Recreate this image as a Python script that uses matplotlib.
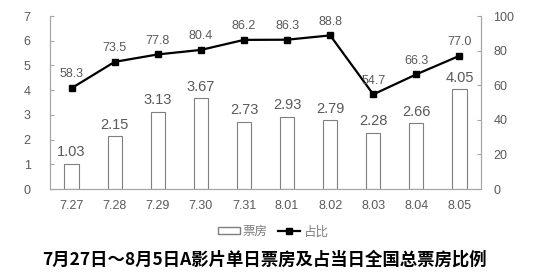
import numpy as np
import matplotlib.pyplot as plt
from matplotlib.patches import Patch
from matplotlib.lines import Line2D

plt.rcParams['font.family'] = ['Noto Sans CJK SC', 'DejaVu Sans']

dates = ['7.27', '7.28', '7.29', '7.30', '7.31', '8.01', '8.02', '8.03', '8.04', '8.05']
box_office = [1.03, 2.15, 3.13, 3.67, 2.73, 2.93, 2.79, 2.28, 2.66, 4.05]
share = [58.3, 73.5, 77.8, 80.4, 86.2, 86.3, 88.8, 54.7, 66.3, 77.0]

gray = '#595959'
num_font = 'Liberation Sans'
fig = plt.figure(figsize=(5.57, 2.76), dpi=100)
ax = fig.add_axes([0.0898, 0.315, 0.7738, 0.627])
ax2 = ax.twinx()

x = np.arange(len(dates))
ax.bar(x, box_office, width=0.33, color='white', edgecolor='#7f7f7f', linewidth=0.8, zorder=2)
for i, v in enumerate(box_office):
    ax.text(x[i], v + 0.17, '%.2f' % v, ha='center', va='bottom', fontsize=10.5,
            color=gray, family=num_font)

ax2.plot(x, share, color='black', marker='s', markersize=5, linewidth=1.6, zorder=3)
for i, v in enumerate(share):
    ax2.text(x[i], v + 4.5, '%.1f' % v, ha='center', va='bottom', fontsize=9,
             color=gray, family=num_font)

ax.set_xlim(-0.5, len(dates) - 0.5)
ax.set_ylim(0, 7)
ax2.set_ylim(0, 100)
ax.set_yticks(range(0, 8))
ax2.set_yticks(range(0, 101, 20))
ax.set_xticks(x)
ax.set_xticklabels(dates)

for a in (ax, ax2):
    for s in a.spines.values():
        s.set_color('#a6a6a6')
    a.spines['top'].set_visible(False)
    a.tick_params(colors='#a6a6a6', labelcolor=gray, labelsize=9, direction='in', length=3)
ax.tick_params(axis='x', length=0, pad=8)
ax.tick_params(axis='y', pad=14)
ax2.tick_params(axis='y', pad=9)
for lab in ax.get_xticklabels() + ax.get_yticklabels() + ax2.get_yticklabels():
    lab.set_family(num_font)

handles = [Patch(facecolor='white', edgecolor='#7f7f7f', label='票房'),
           Line2D([0], [0], color='black', marker='s', markersize=4, linewidth=1.6, label='占比')]
leg = fig.legend(handles=handles, loc='center', bbox_to_anchor=(0.49, 0.16), ncol=2,
                 frameon=False, fontsize=9, handlelength=1.8, handleheight=0.5,
                 handletextpad=0.2, columnspacing=0.8)
for t in leg.get_texts():
    t.set_color('#7f7f7f')

fig.text(0.475, 0.058, '7月27日～8月5日A影片单日票房及占当日全国总票房比例', ha='center', va='center',
         fontsize=12.5, fontweight='bold', color='black')

fig.savefig('out.png', dpi=100)
